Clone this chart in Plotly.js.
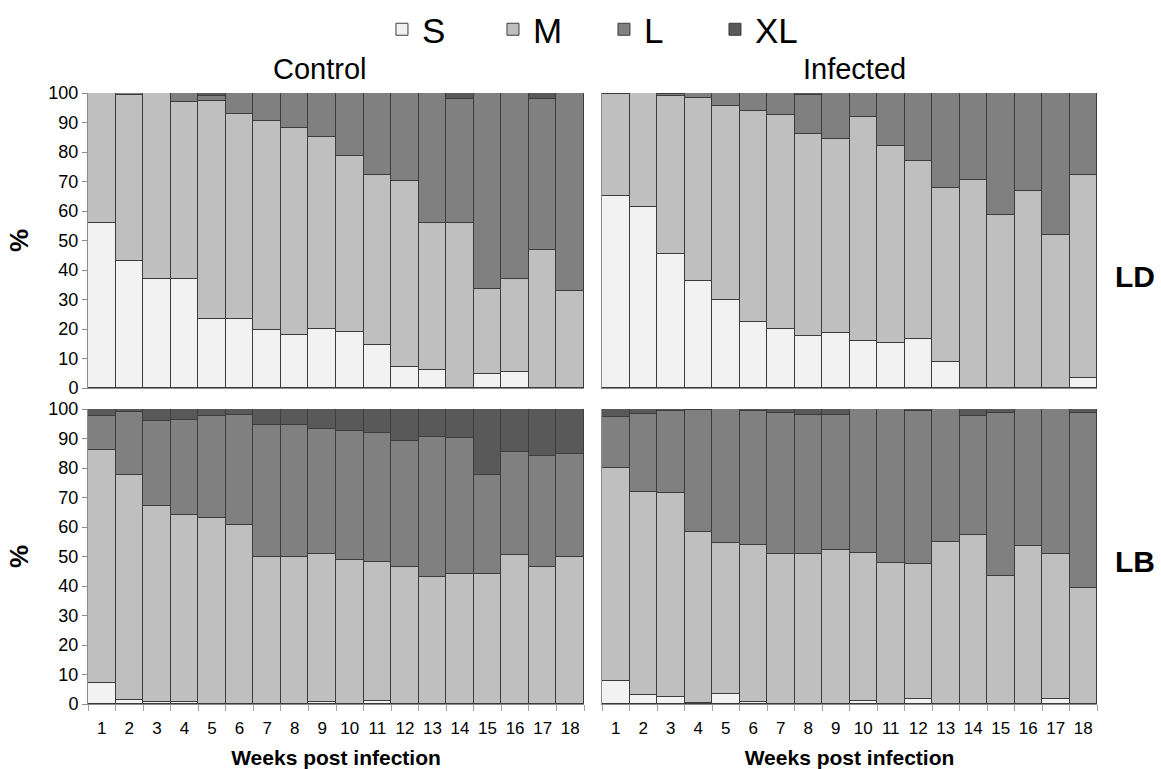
<!DOCTYPE html>
<html>
<head>
<meta charset="utf-8">
<script src="https://cdn.plot.ly/plotly-3.0.1.min.js"></script>
<style>html,body{margin:0;padding:0;background:#fff;}#chart{width:1161px;height:769px;}</style>
</head>
<body>
<div id="chart"></div>
<script>
// Weeks post infection
const weeks = ['1','2','3','4','5','6','7','8','9','10','11','12','13','14','15','16','17','18'];
const sizeClasses = ['S','M','L','XL'];
const sizeColors = ['#f2f2f2','#bfbfbf','#808080','#595959'];

// Control, LD (percent per class)
const controlLD_S  = [55.9,43.2,37.1,37.1,23.4,23.4,19.7,18.0,20.0,18.9,14.6,7.2,6.1,0,4.9,5.4,0,0];
const controlLD_M  = [44.1,56.0,62.9,59.8,73.8,69.4,70.7,70.1,65.1,59.6,57.5,62.9,49.8,55.9,28.5,31.5,46.8,32.8];
const controlLD_L  = [0,0.8,0,3.1,1.8,7.2,9.6,11.9,14.9,21.5,27.9,29.9,44.1,42.0,66.6,63.1,51.1,67.2];
const controlLD_XL = [0,0,0,0,1.0,0,0,0,0,0,0,0,0,2.1,0,0,2.1,0];

// Infected, LD
const infectedLD_S  = [65.0,61.4,45.5,36.2,29.8,22.4,20.0,17.6,18.6,15.9,15.4,16.5,8.8,0,0,0,0,3.5];
const infectedLD_M  = [34.5,38.6,53.4,62.0,65.7,71.6,72.5,68.5,65.9,76.1,66.5,60.4,58.9,70.5,58.6,66.8,52.0,68.8];
const infectedLD_L  = [0.5,0,0.6,1.8,4.5,6.0,7.5,13.1,15.5,8.0,18.1,23.1,32.3,29.5,41.4,33.2,48.0,27.7];
const infectedLD_XL = [0,0,0.5,0,0,0,0,0.8,0,0,0,0,0,0,0,0,0,0];

// Control, LB
const controlLB_S  = [7.0,1.2,0.6,0.6,0,0,0,0,0.8,0,1.0,0,0,0,0,0,0,0];
const controlLB_M  = [79.2,76.5,66.4,63.4,63.2,60.7,49.8,49.8,50.2,48.9,47.2,46.4,43.2,44.0,44.2,50.6,46.4,49.9];
const controlLB_L  = [11.3,21.2,28.8,32.2,34.3,37.2,44.9,44.7,42.3,43.8,43.8,42.6,47.4,46.1,33.5,34.7,37.8,34.7];
const controlLB_XL = [2.5,1.1,4.2,3.8,2.5,2.1,5.3,5.5,6.7,7.3,8.0,11.0,9.4,9.9,22.3,14.7,15.8,15.4];

// Infected, LB
const infectedLB_S  = [7.9,2.9,2.3,0.5,3.3,0.8,0,0,0,1.0,0,1.7,0,0,0,0,1.7,0];
const infectedLB_M  = [72.2,68.9,69.1,57.7,51.4,53.0,50.7,50.7,52.1,50.3,47.8,45.9,54.8,57.4,43.3,53.7,49.3,39.3];
const infectedLB_L  = [17.2,26.4,28.0,41.5,45.3,45.5,47.9,47.3,45.9,48.7,52.2,51.8,45.2,40.1,55.2,46.3,49.0,59.2];
const infectedLB_XL = [2.7,1.8,0.6,0.3,0,0.7,1.4,2.0,2.0,0,0,0.6,0,2.5,1.5,0,0,1.5];

const panels = [
  {xa:'x',  ya:'y',  data:[controlLD_S, controlLD_M, controlLD_L, controlLD_XL], legend:true},
  {xa:'x2', ya:'y2', data:[infectedLD_S,infectedLD_M,infectedLD_L,infectedLD_XL], legend:false},
  {xa:'x3', ya:'y3', data:[controlLB_S, controlLB_M, controlLB_L, controlLB_XL], legend:false},
  {xa:'x4', ya:'y4', data:[infectedLB_S,infectedLB_M,infectedLB_L,infectedLB_XL], legend:false}
];

const traces = [];
panels.forEach(p => {
  p.data.forEach((vals, i) => {
    traces.push({
      type:'bar', x:weeks, y:vals, name:sizeClasses[i],
      xaxis:p.xa, yaxis:p.ya, legendgroup:sizeClasses[i], showlegend:p.legend,
      marker:{color:sizeColors[i], line:{color:'#3c3c3c', width:1}},
      hoverinfo:'x+y+name'
    });
  });
});

const F = 'Liberation Sans, Arial, sans-serif';
const W = 1161, H = 769;
const xL = [88/W, 584/W], xR = [602/W, 1097/W];
const yT = [1-388/H, 1-93/H], yB = [1-704/H, 1-409/H];

function xaxis(dom, anchor, bottom){
  const a = {domain:dom, anchor:anchor, type:'category', range:[-0.5,17.5],
    showline:true, linecolor:'#8c8c8c', linewidth:1, showgrid:false, zeroline:false,
    automargin:false, fixedrange:true};
  if(bottom){
    Object.assign(a,{showticklabels:true, ticks:'outside', tickson:'boundaries', ticklen:6,
      tickcolor:'#a6a6a6', tickangle:0, ticklabelstandoff:9,
      tickfont:{family:F, size:17, color:'#000'},
      title:{text:'<b>Weeks post infection</b>', font:{family:F, size:21, color:'#000'}, standoff:12}});
  } else {
    Object.assign(a,{showticklabels:false, ticks:''});
  }
  return a;
}
function yaxis(dom, anchor, left){
  const a = {domain:dom, anchor:anchor, range:[0,100], dtick:10,
    showline:true, linecolor:'#8c8c8c', linewidth:1, showgrid:false, zeroline:false,
    automargin:false, fixedrange:true};
  if(left){
    Object.assign(a,{showticklabels:true, ticks:'outside', ticklen:5, tickcolor:'#8c8c8c',
      tickfont:{family:F, size:18, color:'#000'},
      title:{text:'<b>%</b>', font:{family:F, size:26, color:'#000'}, standoff:12}});
  } else {
    Object.assign(a,{showticklabels:false, ticks:''});
  }
  return a;
}

const layout = {
  width:W, height:H, margin:{l:0,r:0,t:0,b:0}, paper_bgcolor:'#fff', plot_bgcolor:'#fff',
  barmode:'stack', bargap:0,
  showlegend:true,
  legend:{orientation:'h', x:0.329, y:1.0, xanchor:'left', yanchor:'top',
    font:{family:F, size:35, color:'#000'}, traceorder:'normal',
    entrywidth:66, itemwidth:30, bgcolor:'rgba(0,0,0,0)'},
  xaxis: xaxis(xL,'y',false),
  yaxis: yaxis(yT,'x',true),
  xaxis2: xaxis(xR,'y2',false),
  yaxis2: yaxis(yT,'x2',false),
  xaxis3: xaxis(xL,'y3',true),
  yaxis3: yaxis(yB,'x3',true),
  xaxis4: xaxis(xR,'y4',true),
  yaxis4: yaxis(yB,'x4',false),
  annotations:[
    {text:'Control', xref:'paper', yref:'paper', x:320/W, y:1-69/H, xanchor:'center', yanchor:'middle', showarrow:false, font:{family:F, size:29, color:'#000'}},
    {text:'Infected', xref:'paper', yref:'paper', x:854/W, y:1-69/H, xanchor:'center', yanchor:'middle', showarrow:false, font:{family:F, size:29, color:'#000'}},
    {text:'<b>LD</b>', xref:'paper', yref:'paper', x:1135/W, y:1-276/H, xanchor:'center', yanchor:'middle', showarrow:false, font:{family:F, size:30, color:'#000'}},
    {text:'<b>LB</b>', xref:'paper', yref:'paper', x:1135/W, y:1-561/H, xanchor:'center', yanchor:'middle', showarrow:false, font:{family:F, size:30, color:'#000'}}
  ]
};

Plotly.newPlot('chart', traces, layout, {displayModeBar:false, staticPlot:false});
</script>
</body>
</html>
